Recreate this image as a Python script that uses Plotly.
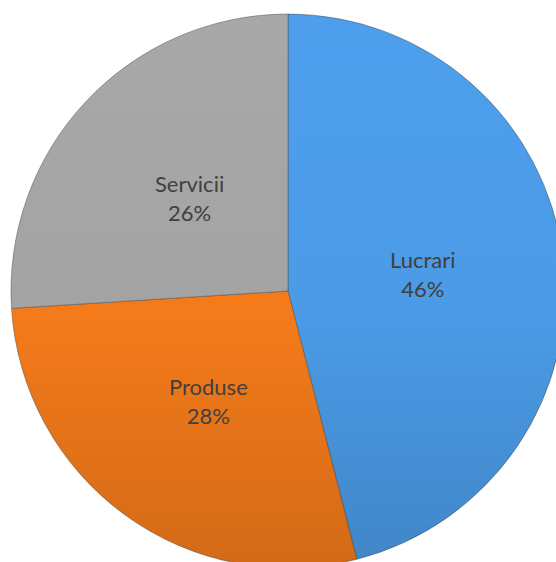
import base64
import math
import plotly.graph_objects as go

# Share of contracts by category
categories = ["Lucrari", "Produse", "Servicii"]
shares = [46, 28, 26]
slice_colors = ["#4d9fed", "#fb7e1b", "#a8a8a8"]

fig = go.Figure(
    go.Pie(
        labels=categories,
        values=shares,
        sort=False,
        direction="clockwise",
        rotation=0,
        marker=dict(colors=slice_colors, line=dict(color="rgba(70,70,70,0.45)", width=1)),
        textinfo="none",
        hoverinfo="label+percent",
        showlegend=False,
        domain=dict(x=[0, 1], y=[0, 1]),
    )
)

# Labels sit on each slice's bisector, about halfway out from the centre
total = sum(shares)
start = 0.0
for name, v in zip(categories, shares):
    mid = (start + v / 2) / total * 2 * math.pi
    start += v
    rr = 0.49 * 0.5
    fig.add_annotation(
        x=0.5 + rr * math.sin(mid),
        y=0.5 + rr * math.cos(mid),
        xref="paper",
        yref="paper",
        text=f"{name}<br>{round(v / total * 100)}%",
        showarrow=False,
        xanchor="center",
        yanchor="middle",
        font=dict(family="Lato, Carlito, sans-serif", size=22, color="#404040"),
    )

# Soft top-to-bottom shading across the disc, strongest near the bottom
shade_svg = (
    "<svg xmlns='http://www.w3.org/2000/svg' width='200' height='200' viewBox='0 0 200 200'>"
    "<defs><linearGradient id='g' x1='0' y1='0' x2='0' y2='1'>"
    "<stop offset='0' stop-color='black' stop-opacity='0'/>"
    "<stop offset='0.55' stop-color='black' stop-opacity='0.03'/>"
    "<stop offset='1' stop-color='black' stop-opacity='0.16'/>"
    "</linearGradient></defs>"
    "<circle cx='100' cy='100' r='100' fill='url(#g)'/></svg>"
)
shade_uri = "data:image/svg+xml;base64," + base64.b64encode(shade_svg.encode()).decode()
fig.add_layout_image(
    source=shade_uri,
    xref="paper",
    yref="paper",
    x=0,
    y=1,
    sizex=1,
    sizey=1,
    xanchor="left",
    yanchor="top",
    sizing="stretch",
    layer="above",
)

fig.update_layout(
    width=580,
    height=580,
    margin=dict(l=11, t=14, r=15, b=12),
    paper_bgcolor="white",
    plot_bgcolor="white",
)

fig.write_html(
    "out.html",
    post_script="document.documentElement.style.overflow='hidden';document.body.style.overflow='hidden';document.body.style.margin='0';",
)
